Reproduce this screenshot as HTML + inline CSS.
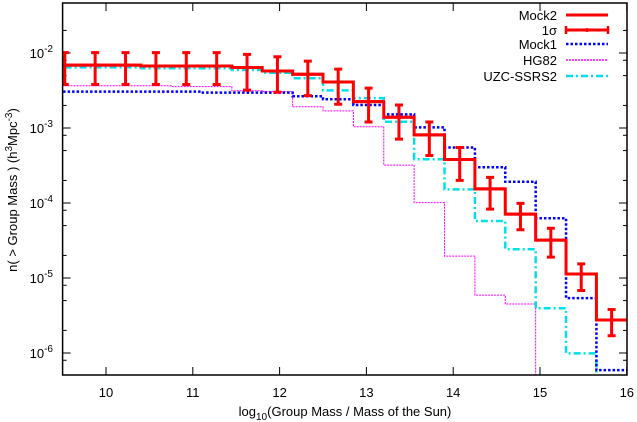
<!DOCTYPE html>
<html><head><meta charset="utf-8"><style>
body{margin:0;background:#fff}
svg{display:block;font-family:"Liberation Sans",sans-serif}
</style></head><body>
<svg id="c" width="637" height="422"></svg>
<script>
const binCenters=[9.525,9.875,10.225,10.575,10.925,11.275,11.625,11.975,12.325,12.675,13.025,13.375,13.725,14.075,14.425,14.775,15.125,15.475,15.825];
const mock2=[6.9e-3,6.9e-3,6.9e-3,6.7e-3,6.7e-3,6.7e-3,6.4e-3,5.75e-3,5.2e-3,4.1e-3,2.25e-3,1.39e-3,8.1e-4,3.8e-4,1.54e-4,7.1e-5,3.2e-5,1.13e-5,2.75e-6];
const errHi=[1.01e-2,1.01e-2,1.01e-2,1.01e-2,1.01e-2,1.01e-2,9.6e-3,8.9e-3,7.8e-3,6.1e-3,3.4e-3,2.03e-3,1.2e-3,5.5e-4,2.2e-4,9.9e-5,4.6e-5,1.54e-5,3.8e-6];
const errLo=[3.8e-3,3.8e-3,3.8e-3,3.8e-3,3.8e-3,3.8e-3,3.2e-3,3.0e-3,2.7e-3,2.07e-3,1.2e-3,7.1e-4,4.3e-4,2.0e-4,8.3e-5,4.4e-5,1.9e-5,6.8e-6,1.7e-6];
const mock1=[3.05e-3,3.05e-3,3.05e-3,3.05e-3,3.05e-3,2.96e-3,2.96e-3,2.96e-3,2.65e-3,2.42e-3,2.03e-3,1.52e-3,1.02e-3,5.5e-4,3.0e-4,1.92e-4,6.25e-5,5.4e-6,5.9e-7];
const hg82=[3.66e-3,3.66e-3,3.66e-3,3.66e-3,3.56e-3,3.56e-3,3.14e-3,3.05e-3,1.92e-3,1.69e-3,1.04e-3,3.2e-4,1.01e-4,1.96e-5,5.9e-6,4.5e-6,0,0,0];
const uzc=[6.44e-3,6.44e-3,6.44e-3,6.25e-3,6.25e-3,6.25e-3,5.93e-3,5.46e-3,4.6e-3,3.18e-3,2.5e-3,1.21e-3,3.83e-4,1.52e-4,5.75e-5,2.42e-5,3.95e-6,9.9e-7,0];
const xTicks=[10,11,12,13,14,15,16];
const yTickExp=[-2,-3,-4,-5,-6];

const NS="http://www.w3.org/2000/svg";
const svg=document.getElementById('c');
const L=62.6,R=627,T=3,B=375;
const binW=0.35;
function X(v){return 106+(v-10)*86.8;}
function Y(v){if(!(v>0))return B+5;return 128+(-3-Math.log10(v))*75;}
function el(tag,attrs,parent){const e=document.createElementNS(NS,tag);for(const k in attrs)e.setAttribute(k,attrs[k]);(parent||svg).appendChild(e);return e;}

const defs=el('defs',{});
const cp=el('clipPath',{id:'clip'},defs);
el('rect',{x:L,y:T,width:R-L,height:B-T},cp);

// ticks
const ticks=el('g',{stroke:'#000','stroke-width':1});


xTicks.forEach(t=>{
  el('line',{x1:X(t),x2:X(t),y1:B,y2:B-8},ticks);
  el('line',{x1:X(t),x2:X(t),y1:T,y2:T+8},ticks);
  const tx=el('text',{x:X(t),y:397,'text-anchor':'middle','font-size':13,fill:'#000',stroke:'none'});
  tx.textContent=t;
  
  
});
[-7,-6,-5,-4,-3,-2,-1].forEach(e=>{
  [2,5,8].forEach(m=>{const y=Y(m*Math.pow(10,e));if(y>T&&y<B){
    el('line',{x1:L,x2:L+4,y1:y,y2:y},ticks);el('line',{x1:R,x2:R-4,y1:y,y2:y},ticks);}});
});
yTickExp.forEach(e=>{
  const y=Y(Math.pow(10,e));
  el('line',{x1:L,x2:L+8,y1:y,y2:y},ticks);
  el('line',{x1:R,x2:R-8,y1:y,y2:y},ticks);
  const tx=el('text',{x:53,y:y+5,'text-anchor':'end','font-size':13,fill:'#000',stroke:'none'});
  tx.innerHTML='10<tspan dy="-6" font-size="10">'+e+'</tspan>';
  
  
});

function stepPath(vals){
  let d='';
  vals.forEach((v,i)=>{
    const x0=X(binCenters[i]-binW/2),x1=X(binCenters[i]+binW/2),y=Y(v);
    d+=(i===0?'M':'L')+x0+','+y+' L'+x1+','+y+' ';
  });
  return d;
}
const g=el('g',{'clip-path':'url(#clip)',fill:'none'});
const sHg=el('path',{d:stepPath(hg82),stroke:'#ff00ff','stroke-width':1,'stroke-dasharray':'2,1'},g);


const sU=el('path',{d:stepPath(uzc),stroke:'#00e0e8','stroke-width':2.5,'stroke-dasharray':'7,3,2,3'},g);


const sM1=el('path',{d:stepPath(mock1),stroke:'#0000ff','stroke-width':2.5,'stroke-dasharray':'2.5,2'},g);


const sM2=el('path',{d:stepPath(mock2),stroke:'#ff0000','stroke-width':3},g);


binCenters.forEach((c,i)=>{
  const x=X(c),y1=Y(errHi[i]),y2=Y(errLo[i]);
  const eb=el('path',{d:`M${x},${y1}L${x},${y2}M${x-4},${y1}L${x+4},${y1}M${x-4},${y2}L${x+4},${y2}M${X(c-binW/2)},${Y(mock2[i])}L${X(c+binW/2)},${Y(mock2[i])}`,stroke:'#ff0000','stroke-width':3},g);
  
  
});

const frame=el('rect',{x:L,y:T,width:R-L,height:B-T,fill:'none',stroke:'#000','stroke-width':1.5});



// legend
const leg=el('g',{});


const items=[['Mock2','#ff0000',3,'',false],['1σ','#ff0000',3,'',true],['Mock1','#0000ff',2.5,'2.5,2',false],['HG82','#ff00ff',1.5,'2,1',false],['UZC-SSRS2','#00e0e8',2.5,'7,3,2,3',false]];
const rows=[15,30,44,60,76];
items.forEach((it,i)=>{
  const y=rows[i];
  const t=el('text',{x:557,y:y+5,'text-anchor':'end','font-size':13},leg);
  t.textContent=it[0];
  
  
  const a={x1:566,x2:608,y1:y,y2:y,stroke:it[1],'stroke-width':it[2]};
  if(it[3])a['stroke-dasharray']=it[3];
  el('line',a,leg);
  if(it[4]){el('path',{d:`M566,${y-4}L566,${y+4}M608,${y-4}L608,${y+4}`,stroke:it[1],'stroke-width':2.5,fill:'none'},leg);el('circle',{cx:587,cy:y,r:2,fill:it[1]},leg);}
});

const xl=el('text',{x:345,y:416,'text-anchor':'middle','font-size':13});
xl.innerHTML='log<tspan dy="4" font-size="10">10</tspan><tspan dy="-4">(Group Mass / Mass of the Sun)</tspan>';


const yl=el('text',{x:0,y:0,'text-anchor':'middle','font-size':13,transform:'translate(17,190) rotate(-90)'});
yl.innerHTML='n( &gt; Group Mass ) (h<tspan dy="-5" font-size="10">3</tspan><tspan dy="5">Mpc</tspan><tspan dy="-5" font-size="10">-3</tspan><tspan dy="5">)</tspan>';


</script>
</body></html>
